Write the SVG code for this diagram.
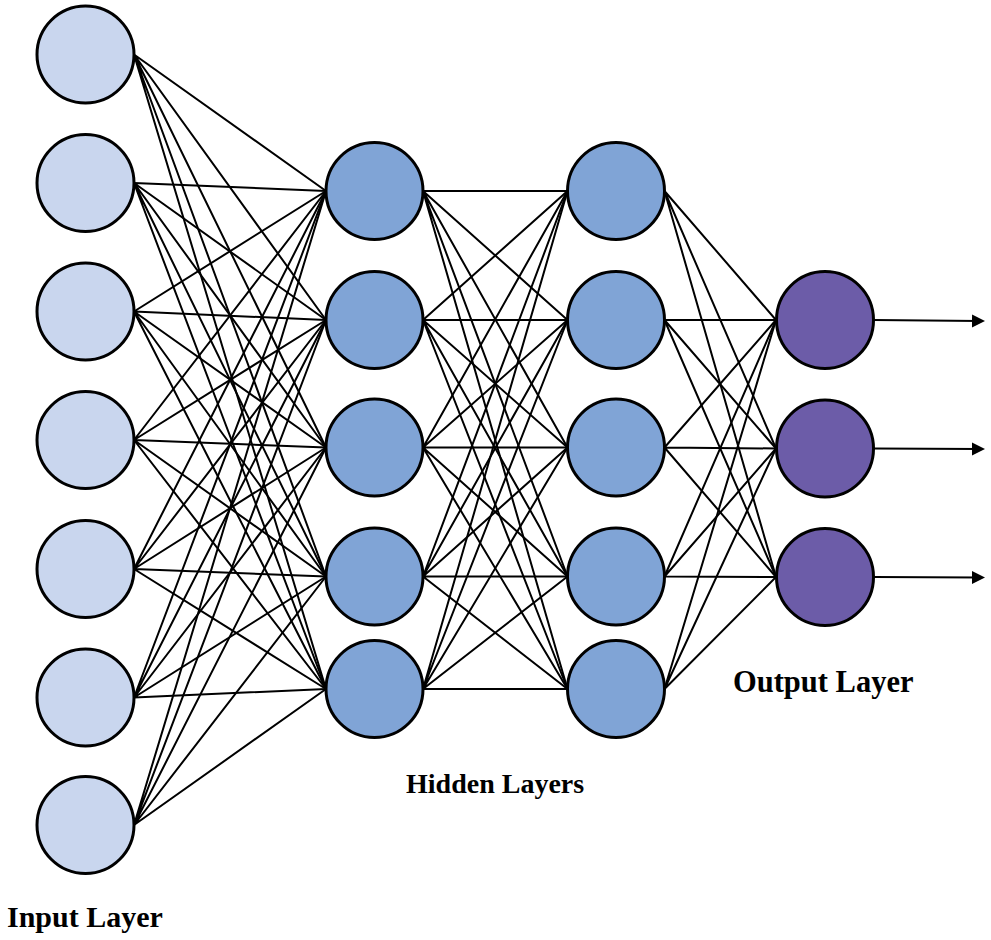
<svg xmlns="http://www.w3.org/2000/svg" width="991" height="940" viewBox="0 0 991 940">
<style>
.c{stroke:#000;stroke-width:2;fill:none}
.n{stroke:#000;stroke-width:3}
.in{fill:#C9D6EE}
.hd{fill:#80A4D6}
.out{fill:#6C5CA8}
.t{font-family:"Liberation Serif","Times New Roman",serif;font-weight:bold;fill:#000}
</style>
<defs>
<marker id="ah" markerUnits="userSpaceOnUse" markerWidth="14" markerHeight="14" refX="7" refY="7" orient="auto"><path d="M0,0.5 L13,7 L0,13.5 z" fill="#000"/></marker>
</defs>
<rect width="991" height="940" fill="#fff"/>
<g id="connectors">
<path class="c" d="M134,54.5L326,191M134,54.5L326,320M134,54.5L326,447.5M134,54.5L326,576.5M134,54.5L326,689"/>
<path class="c" d="M134,183L326,191M134,183L326,320M134,183L326,447.5M134,183L326,576.5M134,183L326,689"/>
<path class="c" d="M134,311.5L326,191M134,311.5L326,320M134,311.5L326,447.5M134,311.5L326,576.5M134,311.5L326,689"/>
<path class="c" d="M134,440L326,191M134,440L326,320M134,440L326,447.5M134,440L326,576.5M134,440L326,689"/>
<path class="c" d="M134,569L326,191M134,569L326,320M134,569L326,447.5M134,569L326,576.5M134,569L326,689"/>
<path class="c" d="M134,697.5L326,191M134,697.5L326,320M134,697.5L326,447.5M134,697.5L326,576.5M134,697.5L326,689"/>
<path class="c" d="M134,825L326,191M134,825L326,320M134,825L326,447.5M134,825L326,576.5M134,825L326,689"/>
<path class="c" d="M423,191L567.5,191M423,191L567.5,320M423,191L567.5,447.5M423,191L567.5,576.5M423,191L567.5,689"/>
<path class="c" d="M423,320L567.5,191M423,320L567.5,320M423,320L567.5,447.5M423,320L567.5,576.5M423,320L567.5,689"/>
<path class="c" d="M423,447.5L567.5,191M423,447.5L567.5,320M423,447.5L567.5,447.5M423,447.5L567.5,576.5M423,447.5L567.5,689"/>
<path class="c" d="M423,576.5L567.5,191M423,576.5L567.5,320M423,576.5L567.5,447.5M423,576.5L567.5,576.5M423,576.5L567.5,689"/>
<path class="c" d="M423,689L567.5,191M423,689L567.5,320M423,689L567.5,447.5M423,689L567.5,576.5M423,689L567.5,689"/>
<path class="c" d="M664.5,191L776,320M664.5,191L776,448.5M664.5,191L776,577"/>
<path class="c" d="M664.5,320L776,320M664.5,320L776,448.5M664.5,320L776,577"/>
<path class="c" d="M664.5,447.5L776,320M664.5,447.5L776,448.5M664.5,447.5L776,577"/>
<path class="c" d="M664.5,576.5L776,320M664.5,576.5L776,448.5M664.5,576.5L776,577"/>
<path class="c" d="M664.5,689L776,320M664.5,689L776,448.5M664.5,689L776,577"/>
<line class="c" x1="874" y1="320" x2="979" y2="321" marker-end="url(#ah)"/>
<line class="c" x1="874" y1="448.5" x2="979" y2="449" marker-end="url(#ah)"/>
<line class="c" x1="874" y1="577" x2="979" y2="577.5" marker-end="url(#ah)"/>
</g>
<g id="input-1"><circle class="n in" cx="85.5" cy="54.5" r="48.5"/></g>
<g id="input-2"><circle class="n in" cx="85.5" cy="183" r="48.5"/></g>
<g id="input-3"><circle class="n in" cx="85.5" cy="311.5" r="48.5"/></g>
<g id="input-4"><circle class="n in" cx="85.5" cy="440" r="48.5"/></g>
<g id="input-5"><circle class="n in" cx="85.5" cy="569" r="48.5"/></g>
<g id="input-6"><circle class="n in" cx="85.5" cy="697.5" r="48.5"/></g>
<g id="input-7"><circle class="n in" cx="85.5" cy="825" r="48.5"/></g>
<g id="hidden1-1"><circle class="n hd" cx="374.5" cy="191" r="48.5"/></g>
<g id="hidden1-2"><circle class="n hd" cx="374.5" cy="320" r="48.5"/></g>
<g id="hidden1-3"><circle class="n hd" cx="374.5" cy="447.5" r="48.5"/></g>
<g id="hidden1-4"><circle class="n hd" cx="374.5" cy="576.5" r="48.5"/></g>
<g id="hidden1-5"><circle class="n hd" cx="374.5" cy="689" r="48.5"/></g>
<g id="hidden2-1"><circle class="n hd" cx="616" cy="191" r="48.5"/></g>
<g id="hidden2-2"><circle class="n hd" cx="616" cy="320" r="48.5"/></g>
<g id="hidden2-3"><circle class="n hd" cx="616" cy="447.5" r="48.5"/></g>
<g id="hidden2-4"><circle class="n hd" cx="616" cy="576.5" r="48.5"/></g>
<g id="hidden2-5"><circle class="n hd" cx="616" cy="689" r="48.5"/></g>
<g id="output-1"><circle class="n out" cx="825" cy="320" r="48.5"/></g>
<g id="output-2"><circle class="n out" cx="825" cy="448.5" r="48.5"/></g>
<g id="output-3"><circle class="n out" cx="825" cy="577" r="48.5"/></g>
<g id="labels">
<text class="t" x="7" y="927" font-size="30">Input Layer</text>
<text class="t" x="406" y="793" font-size="28">Hidden Layers</text>
<text class="t" x="733" y="692" font-size="30.5">Output Layer</text>
</g>
</svg>
